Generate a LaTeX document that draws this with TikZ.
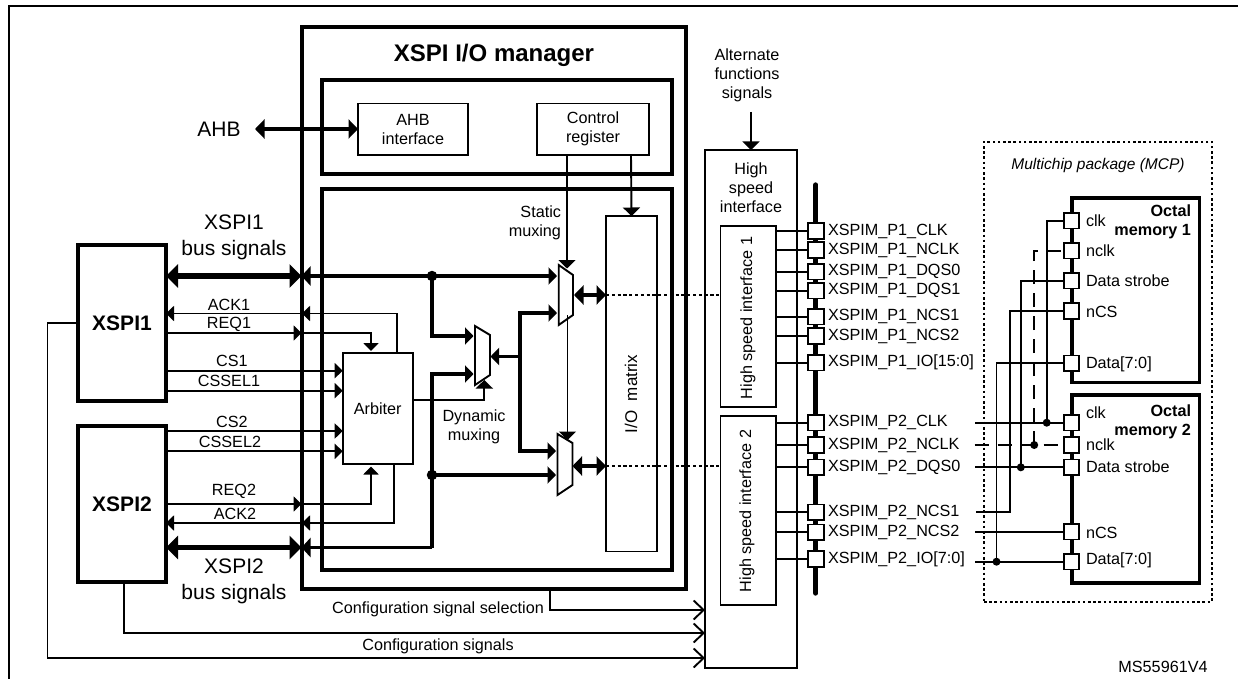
\documentclass[tikz,border=0pt]{standalone}
\usepackage{fontspec}
\setmainfont{Liberation Sans}
\usetikzlibrary{arrows.meta}
\newcommand{\placebox}[7][]{\node[#1,minimum width={(#5-#3)*1pt},minimum height={(#6-#4)*1pt}] (#2) at ({(#3+#5)/2},{(#4+#6)/2}) {#7};}
\tikzset{
  txt/.style={font=\fontsize{16.2}{19}\selectfont,inner sep=0pt,outer sep=0pt},
  txtbig/.style={font=\fontsize{21}{26}\selectfont,inner sep=0pt,outer sep=0pt,align=center},
  heavybox/.style={draw,line width=3.6pt,inner sep=0pt,outer sep=0pt,align=center,font=\fontsize{21}{26}\selectfont\bfseries},
  thinbox/.style={draw,line width=1.7pt,inner sep=0pt,outer sep=0pt,align=center,font=\fontsize{16.2}{19}\selectfont},
  pad/.style={draw,fill=white,line width=1.7pt,inner sep=0pt,outer sep=0pt,minimum width=15.5pt,minimum height=15.5pt},
  sig/.style={line width=1.9pt,line cap=butt},
  bus/.style={line width=3.3pt,line cap=butt,line join=miter},
  wide/.style={line width=5.4pt,line cap=butt},
  stip/.style={-{Triangle[length=8pt,width=15pt]}},
  btip/.style={-{Triangle[length=8.5pt,width=17pt]}},
  bbtip/.style={{Triangle[length=9.5pt,width=19pt]}-{Triangle[length=9.5pt,width=19pt]}},
  wtip/.style={{Triangle[length=12pt,width=23pt]}-{Triangle[length=12pt,width=23pt]}},
  otip/.style={-{Straight Barb[length=10pt,width=19pt]}},
  dot/.style={circle,fill=black,inner sep=0pt,outer sep=0pt,minimum size=#1},
  dots/.style={line width=1.7pt,dash pattern=on 3.2pt off 2.6pt},
  nck/.style={line width=1.9pt,dash pattern=on 14pt off 9pt},
}
\begin{document}
\begin{tikzpicture}[x=1pt,y=-1pt]
\useasboundingbox (0,0) rectangle (1238,679);
% frame, cropped at the right and bottom
\coordinate (frameA) at (9,679);
\coordinate (frameB) at (9,6);
\coordinate (frameC) at (1238,6);
\draw[line width=1.6pt,line join=miter] (frameA) -- (frameB) -- (frameC);

% manager
\placebox[draw,line width=3.6pt,outer sep=0pt]{mgr}{301.7}{27}{686}{589}{}
\placebox[draw,line width=3.2pt,outer sep=0pt]{top}{322}{80}{672}{174}{}
\placebox[draw,line width=3.2pt,outer sep=0pt]{low}{322}{189}{672}{570}{}
\node[font=\fontsize{24}{28}\selectfont\bfseries,inner sep=0pt] (mgrtitle) at (494,55) {XSPI I/O manager};
\placebox[thinbox]{ahbif}{358}{103.5}{468}{155}{AHB\\interface}
\placebox[thinbox]{ctrl}{537}{103.5}{649}{155}{Control\\register}
\placebox[thinbox]{iom}{606}{216}{657}{551.5}{}
\node[txt,rotate=90,font=\fontsize{17}{20}\selectfont] (iomtext) at (631,394) {I/O\ \ matrix};
\placebox[thinbox]{arb}{342.7}{353}{412.7}{464}{Arbiter}

% XSPI blocks
\placebox[heavybox]{xone}{78}{245}{166}{400.7}{XSPI1}
\placebox[heavybox]{xtwo}{78}{426}{166}{582}{XSPI2}

% text outside
\node[txtbig] (ahb) at (219,129) {AHB};
\coordinate (ahbend) at (255,129);
\draw[bus,bbtip] (ahbend) -- (ahbif.west |- ahbend);
\node[txtbig] (xonetext) at (234,237) {XSPI1\\bus signals};
\node[txtbig] (xtwotext) at (234,581) {XSPI2\\bus signals};

% muxes
\coordinate (ma1) at (558.7,265); \coordinate (ma2) at (573,275); \coordinate (ma3) at (573,315); \coordinate (ma4) at (558.7,325);
\coordinate (mb1) at (557.5,434); \coordinate (mb2) at (572.5,443); \coordinate (mb3) at (572.5,485); \coordinate (mb4) at (557.5,495);
\coordinate (md1) at (475,326); \coordinate (md2) at (490,335); \coordinate (md3) at (490,375); \coordinate (md4) at (475,385);

% control lines (drawn first: run behind the muxes)
\coordinate (ctlA) at (567,155);
\coordinate (ctlB) at (567,268.5);
\coordinate (ctlC) at (567.5,440);
\coordinate (ctlD) at (631,155);
\draw[sig,btip] (ctlD) -- (iom.north);
\draw[line width=1.9pt,line join=miter,fill=white] (ma1) -- (ma2) -- (ma3) -- (ma4) -- cycle;
\draw[line width=1.9pt,line join=miter,fill=white] (mb1) -- (mb2) -- (mb3) -- (mb4) -- cycle;
\draw[line width=1.9pt,line join=miter,fill=white] (md1) -- (md2) -- (md3) -- (md4) -- cycle;
\draw[sig,btip] (ctlA) -- (ctlB);
\draw[sig,btip] (ctlC |- ma3) -- (ctlC);

% external buses
\coordinate (bonex) at (166,276);
\coordinate (bonem) at (301.5,276);
\coordinate (btwox) at (166,547.5);
\coordinate (btwom) at (301.5,547.5);
\draw[wide,wtip] (bonex) -- (bonem);
\draw[wide,wtip] (btwox) -- (btwom);

% internal buses
\coordinate (ja) at (432,276);
\coordinate (jb) at (432,475);
\coordinate (mai1) at (557,276);
\coordinate (mai2) at (557,313);
\coordinate (mbi1) at (556,451);
\coordinate (mbi2) at (556,475);
\coordinate (mdi1) at (473.5,336);
\coordinate (mdi2) at (473.5,374);
\coordinate (mdo) at (490.5,356.5);
\coordinate (mdv) at (520,356.5);
\draw[bus,btip] (ja) -- (mai1);
\draw[bus,-{Triangle[length=9pt,width=19pt]}] (ja) -- (bonem);
\draw[bus,btip] (ja) |- (mdi1);
\draw[bus,btip] (btwom -| ja) -- (jb) |- (mdi2);
\draw[bus,-{Triangle[length=9pt,width=19pt]}] (btwom -| ja) -- (btwom);
\draw[bus,btip] (jb) -- (mbi2);
\draw[bus,btip] (mdv) -- (mdo);
\draw[bus,btip] (mdv) |- (mai2);
\draw[bus,btip] (mdv) |- (mbi1);
\node[dot=10.5pt] (dja) at (ja) {};
\node[dot=10.5pt] (djb) at (jb) {};
\coordinate (mao) at (574,295);
\coordinate (mbo) at (572.5,466);
\draw[bus,bbtip] (mao) -- (iom.west |- mao);
\draw[bus,bbtip] (mbo) -- (iom.west |- mbo);

% arbiter signals
\coordinate (ackA) at (397,353);
\coordinate (ackB) at (397,313.5);
\coordinate (ackM) at (302,313.5);
\coordinate (ackX) at (166,313.5);
\draw[sig,stip] (ackA) -- (ackB) -- (ackM);
\draw[sig,stip] (ackM) -- (ackX);
\coordinate (reqX) at (166,333);
\coordinate (reqM) at (301.5,333);
\coordinate (reqB) at (371,333);
\coordinate (reqA) at (371,351);
\draw[sig,stip] (reqX) -- (reqM);
\draw[sig,stip] (reqM) -- (reqB) -- (reqA);
\coordinate (cs1) at (166,370.7);
\coordinate (csl1) at (166,390.7);
\coordinate (cs2) at (166,431);
\coordinate (csl2) at (166,451.3);
\draw[sig,stip] (cs1) -- (arb.west |- cs1);
\draw[sig,stip] (csl1) -- (arb.west |- csl1);
\draw[sig,stip] (cs2) -- (arb.west |- cs2);
\draw[sig,stip] (csl2) -- (arb.west |- csl2);
\coordinate (rqX) at (166,504);
\coordinate (rqM) at (301.5,504);
\coordinate (rqB) at (371,504);
\coordinate (rqA) at (371,466.5);
\draw[sig,stip] (rqX) -- (rqM);
\draw[sig,stip] (rqM) -- (rqB) -- (rqA);
\coordinate (akA) at (394,464);
\coordinate (akB) at (394,523);
\coordinate (akM) at (302,523);
\coordinate (akX) at (166,523);
\draw[sig,stip] (akA) -- (akB) -- (akM);
\draw[sig,stip] (akM) -- (akX);
\coordinate (selA) at (412.7,400);
\coordinate (selB) at (484.3,400);
\coordinate (selC) at (484.3,380);
\draw[sig,btip] (selA) -- (selB) -- (selC);

% signal labels
\node[txt] (lack1) at (229,305) {ACK1};
\node[txt] (lreq1) at (229,324) {REQ1};
\node[txt] (lcs1) at (232,361) {CS1};
\node[txt] (lcsl1) at (229,381) {CSSEL1};
\node[txt] (lcs2) at (232,421.7) {CS2};
\node[txt] (lcsl2) at (230,441.7) {CSSEL2};
\node[txt] (lreq2) at (234,491.7) {REQ2};
\node[txt] (lack2) at (235,514) {ACK2};
\node[txt,anchor=east,align=right] (lstat) at (561,223) {Static\\muxing};
\node[txt,align=center] (ldyn) at (474,426.5) {Dynamic\\muxing};

% high speed interface
\placebox[thinbox]{hs}{705}{150}{797}{667.7}{}
\placebox[thinbox,line width=1.9pt]{hsa}{720.5}{226}{775.7}{407}{}
\placebox[thinbox,line width=1.9pt]{hsb}{720.5}{416}{775.7}{604.7}{}
\node[txt,align=center] (hstext) at (751,188) {High\\speed\\interface};
\node[txt,rotate=90] (hsatext) at (748,318) {High speed interface 1};
\node[txt,rotate=90] (hsbtext) at (747,511) {High speed interface 2};
\node[txt,align=center] (alt) at (747,75.5) {Alternate\\functions\\signals};
\coordinate (altA) at (751,112);
\draw[line width=2pt,line cap=butt,btip] (altA) -- (hs.north);
\draw[dots] (mao -| iom.west) -- (hsa.west |- mao);
\draw[dots] (mbo -| iom.west) -- (hsb.west |- mbo);

% configuration arrows
\coordinate (cfgA) at (549.7,589);
\coordinate (cfgB) at (549.7,610);
\draw[sig,otip] (cfgA) -- (cfgB) -- (hs.west |- cfgB);
\coordinate (cfgC) at (124,582);
\coordinate (cfgD) at (124,633);
\draw[sig,otip] (cfgC) -- (cfgD) -- (hs.west |- cfgD);
\coordinate (cfgE) at (78,323);
\coordinate (cfgF) at (47.5,323);
\coordinate (cfgG) at (47.5,658);
\draw[sig,otip] (cfgE) -- (cfgF) -- (cfgG) -- (hs.west |- cfgG);
\node[txt] (lcfg1) at (438,609) {Configuration signal selection};
\node[txt] (lcfg2) at (438,646) {Configuration signals};

% pin bus
\coordinate (pbt) at (815.7,185);
\coordinate (pbb) at (815.7,593);
\draw[line width=5.4pt,line cap=round] (pbt) -- (pbb);

% pins
\foreach \nm/\yy/\tx in {pa/231/XSPIM\_P1\_CLK,pb/250/XSPIM\_P1\_NCLK,pc/271.7/XSPIM\_P1\_DQS0,pd/290.7/XSPIM\_P1\_DQS1,pe/316.7/XSPIM\_P1\_NCS1,pf/336/XSPIM\_P1\_NCS2,pg/362.7/XSPIM\_P1\_IO[15:0]}{
  \node[pad] (\nm) at (816,\yy) {};
  \draw[sig] (hsa.east |- \nm.center) -- (\nm);
  \node[txt,anchor=west] (l\nm) at (828,\yy) {\tx};
}
\foreach \nm/\yy/\tx in {qa/422.7/XSPIM\_P2\_CLK,qb/445/XSPIM\_P2\_NCLK,qc/467.3/XSPIM\_P2\_DQS0,qd/512.3/XSPIM\_P2\_NCS1,qe/532.3/XSPIM\_P2\_NCS2,qf/559/XSPIM\_P2\_IO[7:0]}{
  \node[pad] (\nm) at (816,\yy) {};
  \draw[sig] (hsb.east |- \nm.center) -- (\nm);
  \node[txt,anchor=west] (l\nm) at (828,\yy) {\tx};
}

% MCP
\placebox[draw,line width=1.8pt,dash pattern=on 2.6pt off 2.6pt,outer sep=0pt]{mcp}{984}{141.7}{1212}{601.7}{}
\node[txt,font=\fontsize{15.5}{18}\selectfont\itshape] (mcptext) at (1098,165) {Multichip package (MCP)};
\placebox[draw,line width=3.6pt,outer sep=0pt]{mema}{1071.7}{197.7}{1199.3}{382.3}{}
\placebox[draw,line width=3.6pt,outer sep=0pt]{memb}{1071.7}{395}{1199.3}{582.7}{}
\node[txt,font=\fontsize{16.2}{19}\selectfont\bfseries,align=right,anchor=east] (memat) at (1191,221.5) {Octal\\memory 1};
\node[txt,font=\fontsize{16.2}{19}\selectfont\bfseries,align=right,anchor=east] (membt) at (1191,422) {Octal\\memory 2};

% memory pins
\foreach \nm/\yy/\ly/\tx in {ma/220.7/221/clk,mb/250.7/251/nclk,mc/280.7/281/Data strobe,md/311/312/nCS,me/363.3/364/Data[7:0],na/422.7/412.7/clk,nb/445/445/nclk,nc/467.3/467/Data strobe,nd/531.7/533/nCS,ne/561.7/560/Data[7:0]}{
  \node[pad] (\nm) at (1071.5,\yy) {};
  \node[txt,anchor=west] (l\nm) at (1086,\ly) {\tx};
}
\coordinate (sa) at (975,422.7);
\coordinate (sb) at (974.5,445);
\coordinate (sc) at (975,467.3);
\coordinate (sd) at (976,512.3);
\coordinate (se) at (975,531.7);
\coordinate (sf) at (975,561.7);
\coordinate (va) at (1046.7,422.7);
\coordinate (vb) at (1034.2,445);
\coordinate (vc) at (1020.8,467.3);
\coordinate (vd) at (1010,512.3);
\coordinate (vf) at (996.5,561.7);
\draw[sig] (sa) -- (na);
\draw[sig,nck] (sb) -- (nb);
\draw[sig] (sc) -- (nc);
\draw[sig] (se) -- (nd);
\draw[sig] (sf) -- (ne);
\draw[sig] (va) -- (va |- ma.center) -- (ma);
\draw[sig,nck] (vb) -- (vb |- mb.center) -- (mb);
\draw[sig] (vc) -- (vc |- mc.center) -- (mc);
\draw[sig] (sd) -- (vd) -- (vd |- md.center) -- (md);
\draw[sig] (vf) -- (vf |- me.center) -- (me);
\foreach \p in {va,vb,vc,vf}{\node[dot=8pt] (d\p) at (\p) {};}

\node[txt] (code) at (1163,667) {MS55961V4};
\end{tikzpicture}
\end{document}
